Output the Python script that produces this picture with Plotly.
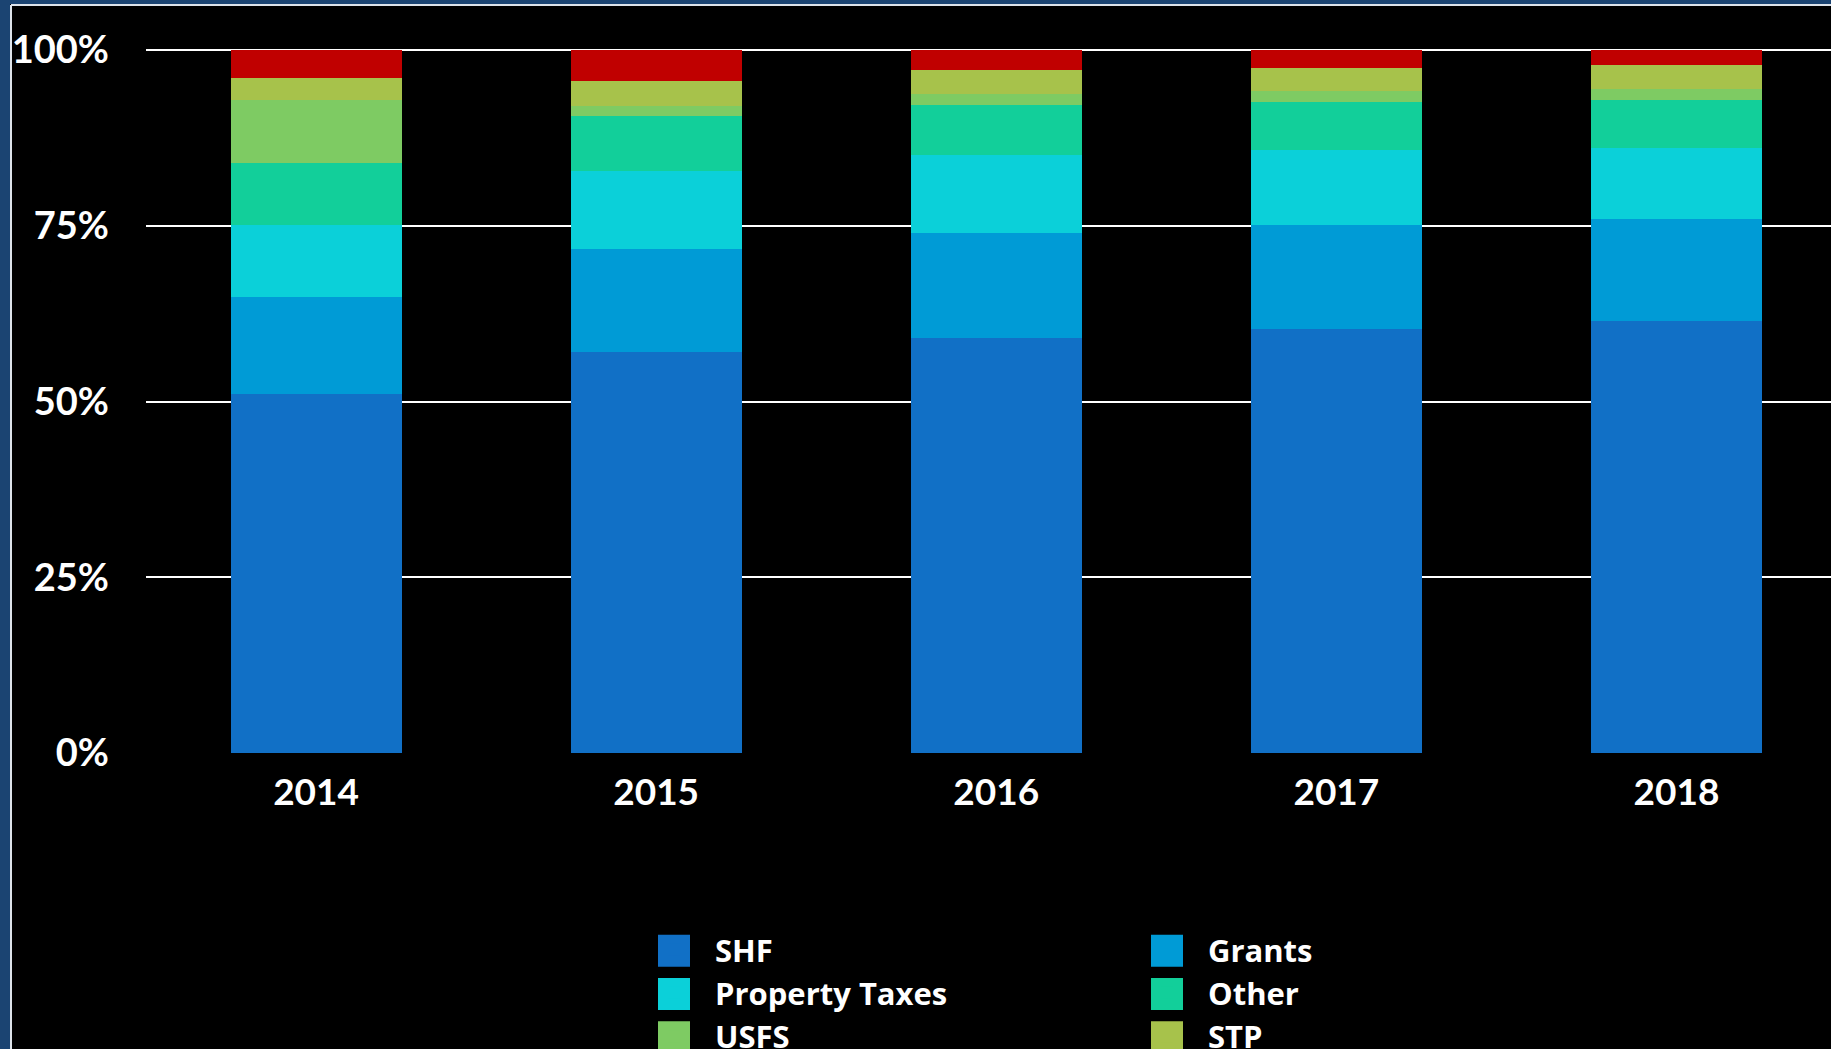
import plotly.graph_objects as go

# ---------------- data ----------------
years = ["2014", "2015", "2016", "2017", "2018"]
shf = [51.1, 57.0, 59.1, 60.3, 61.4]
grants = [13.8, 14.7, 14.9, 14.8, 14.6]
property_taxes = [10.2, 11.1, 11.1, 10.7, 10.1]
other = [8.8, 7.8, 7.1, 6.8, 6.8]
usfs = [9.0, 1.5, 1.5, 1.6, 1.5]
stp = [3.1, 3.5, 3.5, 3.2, 3.5]
fees = [4.0, 4.4, 2.8, 2.6, 2.1]

series_names = ["SHF", "Grants", "Property Taxes", "Other", "USFS", "STP", "Fees"]
series_values = [shf, grants, property_taxes, other, usfs, stp, fees]
series_colors = ["#1170C6", "#009BD6", "#0BD0D9", "#12CF9A", "#7ECB63", "#A7C24B", "#C00000"]
series_legend = ["legend", "legend2", "legend", "legend2", "legend", "legend2", "legend"]

y_ticks = [0, 25, 50, 75, 100]

# ---------------- geometry helpers ----------------
FIG_W, FIG_H = 1831, 1049
L, R, T, B = 146, 0, 48, 296
PW, PH = FIG_W - L - R, FIG_H - T - B
Y_MAX = 100 + 2 * 100 / 703  # keep the 100% gridline inside the plot area


def px_x(px):
    return (px - L) / PW


def px_y(py):
    return (FIG_H - B - py) / PH


FONT = "Lato"
LEG_FONT = "Open Sans"
LEG_FS = 31
ITEM_W = 72
ROW_H = 1.3 * LEG_FS + 3
LEG_TOP = 923
LEG_LEFT = {"legend": 633, "legend2": 1126}

fig = go.Figure()
for name, vals, col, leg in zip(series_names, series_values, series_colors, series_legend):
    fig.add_trace(go.Bar(
        x=years, y=vals, name=name, marker=dict(color=col, line=dict(width=0)),
        legend=leg,
    ))

legend_common = dict(
    orientation="v", xanchor="left", yanchor="top", y=px_y(LEG_TOP),
    bgcolor="rgba(0,0,0,0)", borderwidth=0, traceorder="normal",
    itemwidth=ITEM_W, font=dict(family=LEG_FONT, size=LEG_FS, color="white", weight=700),
)

shapes = []
# enlarged legend swatches behind the legend symbols
rows = {"legend": 0, "legend2": 0}
for col, leg in zip(series_colors, series_legend):
    cx = LEG_LEFT[leg] + (ITEM_W + 10) / 2
    cy = LEG_TOP + 5 + ROW_H * (rows[leg] + 0.5) + 1
    rows[leg] += 1
    shapes.append(dict(type="rect", xref="paper", yref="paper", layer="above",
                       x0=px_x(cx - 16), x1=px_x(cx + 16), y0=px_y(cy + 16), y1=px_y(cy - 16),
                       fillcolor=col, line=dict(width=0)))

# frame
frame_blue = "#1B4472"
shapes += [
    dict(type="rect", xref="paper", yref="paper", layer="above",
         x0=px_x(0), x1=px_x(10), y0=px_y(FIG_H), y1=px_y(0),
         fillcolor=frame_blue, line=dict(width=0)),
    dict(type="rect", xref="paper", yref="paper", layer="above",
         x0=px_x(0), x1=px_x(FIG_W), y0=px_y(4), y1=px_y(0),
         fillcolor=frame_blue, line=dict(width=0)),
    dict(type="line", xref="paper", yref="paper", layer="above",
         x0=px_x(11), x1=px_x(11), y0=px_y(FIG_H), y1=px_y(5),
         line=dict(color="#DDE3EA", width=2)),
    dict(type="line", xref="paper", yref="paper", layer="above",
         x0=px_x(11), x1=px_x(FIG_W), y0=px_y(5), y1=px_y(5),
         line=dict(color="#DDE3EA", width=2)),
]

fig.update_layout(
    width=FIG_W, height=FIG_H,
    margin=dict(l=L, r=R, t=T, b=B, pad=0, autoexpand=False),
    paper_bgcolor="black", plot_bgcolor="black",
    barmode="stack", bargap=0.497,
    showlegend=True,
    legend=dict(legend_common, x=px_x(LEG_LEFT["legend"])),
    legend2=dict(legend_common, x=px_x(LEG_LEFT["legend2"])),
    shapes=shapes,
    xaxis=dict(
        type="category", range=[-0.5, 4.5 - 15.5 / 340], showgrid=False, zeroline=False,
        showline=False, ticks="", ticklabelstandoff=14,
        tickfont=dict(family=FONT, size=37, color="white", weight=700),
    ),
    yaxis=dict(
        range=[0, Y_MAX], tickvals=y_ticks, ticktext=[f"{v}%" for v in y_ticks],
        showgrid=True, gridcolor="white", gridwidth=2,
        zeroline=True, zerolinecolor="black", zerolinewidth=3,
        showline=False, ticks="", ticklabelstandoff=36,
        tickfont=dict(family=FONT, size=38, color="white", weight=700),
    ),
)

fig.write_html(
    "out.html",
    config={"displayModeBar": False},
    post_script="document.body.style.margin='0';document.body.style.overflow='hidden';",
)
